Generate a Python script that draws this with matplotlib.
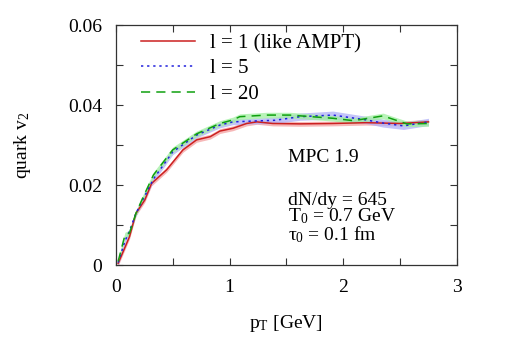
import numpy as np
import matplotlib
matplotlib.use("Agg")
import matplotlib.pyplot as plt

plt.rcParams['font.family'] = ['Liberation Serif', 'DejaVu Serif']
plt.rcParams['mathtext.fontset'] = 'custom'
plt.rcParams['mathtext.rm'] = 'Liberation Serif'
plt.rcParams['mathtext.it'] = 'Liberation Serif'

# l = 1 (like AMPT)
pt_l1 = [0.02, 0.12, 0.176, 0.255, 0.314, 0.446, 0.59, 0.71, 0.83, 0.915, 1.03,
         1.15, 1.24, 1.38, 1.62, 1.91, 2.2, 2.5, 2.75]
v2_l1 = [0.0004, 0.0071, 0.0129, 0.0163, 0.0204, 0.0238, 0.0288, 0.0313, 0.0321,
         0.0335, 0.0342, 0.0354, 0.0358, 0.0354, 0.0353, 0.0354, 0.0356, 0.0354, 0.0358]
err_l1 = [0.0006] * len(pt_l1)

# l = 5
pt_l5 = [0.02, 0.08, 0.12, 0.176, 0.24, 0.33, 0.5, 0.71, 0.915, 1.03, 1.2, 1.4,
         1.62, 1.91, 2.2, 2.35, 2.53, 2.75]
v2_l5 = [0.0006, 0.0060, 0.0085, 0.0129, 0.0165, 0.0215, 0.0283, 0.0325, 0.0350,
         0.0358, 0.0360, 0.0362, 0.0371, 0.0375, 0.0363, 0.0355, 0.0348, 0.0358]
err_l5 = [0.0007, 0.0007, 0.0007, 0.0007, 0.0007, 0.0007, 0.0007, 0.0007, 0.0007,
          0.0007, 0.0007, 0.0008, 0.0009, 0.0010, 0.0009, 0.0010, 0.0009, 0.0009]

# l = 20
pt_l20 = [0.02, 0.08, 0.12, 0.176, 0.24, 0.33, 0.5, 0.71, 0.915, 1.03, 1.09,
          1.325, 1.53, 1.91, 2.09, 2.35, 2.56, 2.75]
v2_l20 = [0.0009, 0.0075, 0.0080, 0.0129, 0.0170, 0.0225, 0.0288, 0.0328, 0.0354,
          0.0363, 0.0371, 0.0375, 0.0375, 0.0367, 0.0361, 0.0373, 0.0353, 0.0354]
err_l20 = [0.0007] * len(pt_l20)

fig = plt.figure(figsize=(5.06, 3.54), dpi=100)
ax = fig.add_axes([0.229, 0.2514, 0.674, 0.6776])

series = [
    (pt_l1, v2_l1, err_l1, '#cc2020', '#f4a0a0', '-', 'l = 1 (like AMPT)'),
    (pt_l5, v2_l5, err_l5, '#2020dd', '#b0b0f8', (0, (1.5, 2.5)), 'l = 5'),
    (pt_l20, v2_l20, err_l20, '#10a010', '#a0f0a0', (0, (6, 4)), 'l = 20'),
]
for pt, v2, err, c, fc, ls, lab in series:
    pt = np.array(pt); v2 = np.array(v2); err = np.array(err)
    ax.fill_between(pt, v2 - err, v2 + err, color=fc, alpha=0.75, lw=0)
for pt, v2, err, c, fc, ls, lab in series:
    ax.plot(pt, v2, color=c, ls=ls, lw=1.1, label=lab)

ax.set_xlim(0, 3)
ax.set_ylim(0, 0.06)
ax.set_xticks([0, 1, 2, 3])
ax.set_xticklabels(['0', '1', '2', '3'])
ax.set_xticks([0.5, 1.5, 2.5], minor=True)
ax.set_yticks([0, 0.02, 0.04, 0.06])
ax.set_yticklabels(['0', '0.02', '0.04', '0.06'])
ax.set_yticks([0.01, 0.03, 0.05], minor=True)
ax.tick_params(which='both', direction='in', top=True, right=True, length=5,
               width=0.8, color='#333333', labelsize=14)
ax.tick_params(axis='y', pad=10)
ax.tick_params(axis='x', pad=10)
for s in ax.spines.values():
    s.set_color('#333333')
    s.set_linewidth(0.9)

ax.set_xlabel('p$_\\mathrm{T}$ [GeV]', fontsize=14, labelpad=12)
ax.set_ylabel('quark v$_2$', fontsize=14, labelpad=25)

leg = ax.legend(loc='upper left', frameon=False, fontsize=15, handlelength=2.6,
                handletextpad=0.7, labelspacing=0.28, borderaxespad=0.0,
                bbox_to_anchor=(0.05, 1.0))

ax.text(1.513, 0.0258, 'MPC 1.9', fontsize=14, va='baseline')
ax.text(1.513, 0.0183, 'dN/dy = 645\nT$_0$ = 0.7 GeV\n$\\tau_0$ = 0.1 fm',
        fontsize=14, va='top', ha='left', linespacing=0.85)

fig.savefig('out.png', dpi=100)
